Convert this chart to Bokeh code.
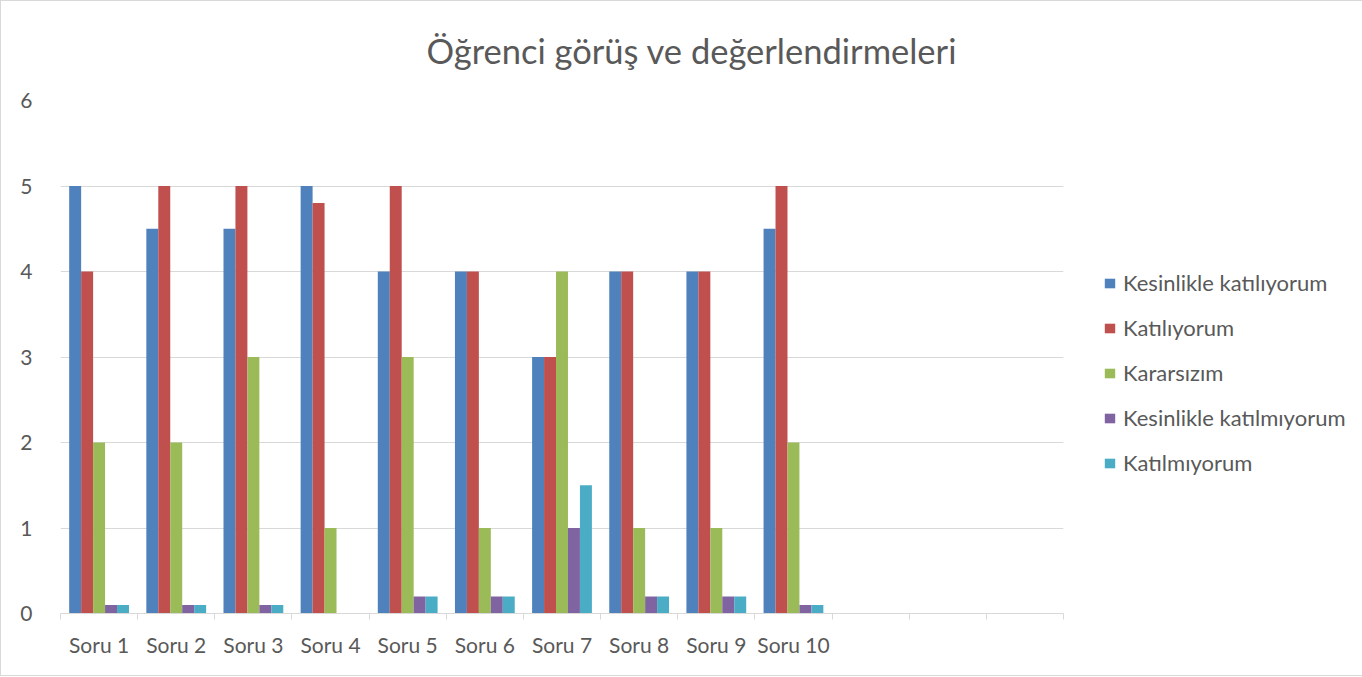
from bokeh.plotting import figure
from bokeh.models import Range1d, FixedTicker, Legend, LegendItem, ColumnDataSource, Title
from bokeh.transform import dodge
from bokeh.embed import file_html
from bokeh.resources import INLINE

categories = ["Soru 1", "Soru 2", "Soru 3", "Soru 4", "Soru 5", "Soru 6", "Soru 7",
              "Soru 8", "Soru 9", "Soru 10", "", "", ""]
series_names = ["Kesinlikle katılıyorum", "Katılıyorum", "Kararsızım",
                "Kesinlikle katılmıyorum", "Katılmıyorum"]
kesinlikle_katiliyorum = [5, 4.5, 4.5, 5, 4, 4, 3, 4, 4, 4.5]
katiliyorum = [4, 5, 5, 4.8, 5, 4, 3, 4, 4, 5]
kararsizim = [2, 2, 3, 1, 3, 1, 4, 1, 1, 2]
kesinlikle_katilmiyorum = [0.1, 0.1, 0.1, 0, 0.2, 0.2, 1, 0.2, 0.2, 0.1]
katilmiyorum = [0.1, 0.1, 0.1, 0, 0.2, 0.2, 1.5, 0.2, 0.2, 0.1]
y_ticks = [0, 1, 2, 3, 4, 5, 6]
colors = ["#4f81bd", "#c0504d", "#9bbb59", "#8064a2", "#4bacc6"]
title_text = "Öğrenci görüş ve değerlendirmeleri"

FONT = "Lato"
TXT = "#595959"
GRID = "#d9d9d9"

n_cat = len(categories)
n_data = len(kesinlikle_katiliyorum)
centers = [i + 0.5 for i in range(n_data)]
src = ColumnDataSource(dict(
    x=centers,
    s0=kesinlikle_katiliyorum, s1=katiliyorum, s2=kararsizim,
    s3=kesinlikle_katilmiyorum, s4=katilmiyorum,
))

p = figure(width=1357, height=674, output_backend="svg", toolbar_location=None,
           x_range=Range1d(0, n_cat), y_range=Range1d(0, 6),
           min_border_left=59, min_border_right=295, min_border_top=99, min_border_bottom=62)
p.frame_width = 1003
p.frame_height = 513
p.outline_line_color = None
p.background_fill_color = "white"
p.border_fill_color = "white"
p.styles = {"border": "1px solid #d9d9d9"}

bw = 0.155
offsets = [-2 * bw, -bw, 0, bw, 2 * bw]
renderers = []
for k in range(5):
    r = p.vbar(x=dodge("x", offsets[k], range=p.x_range), top="s%d" % k, width=bw,
               source=src, fill_color=colors[k], line_color=None)
    renderers.append(r)

# x axis
xa = p.xaxis[0]
xa.ticker = FixedTicker(ticks=[i + 0.5 for i in range(n_cat)],
                        minor_ticks=[float(i) for i in range(n_cat + 1)])
xa.major_label_overrides = {i + 0.5: categories[i] for i in range(n_cat)}
xa.major_tick_line_color = None
xa.major_tick_out = 0
xa.minor_tick_line_color = GRID
xa.minor_tick_out = 6
xa.minor_tick_in = 0
xa.axis_line_color = GRID
xa.major_label_text_font = FONT
xa.major_label_text_font_size = "21px"
xa.major_label_text_color = TXT
xa.major_label_standoff = 12

ya = p.yaxis[0]
ya.ticker = FixedTicker(ticks=y_ticks)
ya.axis_line_color = None
ya.major_tick_line_color = None
ya.minor_tick_line_color = None
ya.major_label_text_font = FONT
ya.major_label_text_font_size = "21px"
ya.major_label_text_color = TXT
ya.major_label_standoff = 22

p.xgrid.grid_line_color = None
p.ygrid.grid_line_color = GRID
p.ygrid.ticker = FixedTicker(ticks=y_ticks)

legend = Legend(items=[LegendItem(label=series_names[k], renderers=[renderers[k]]) for k in range(5)],
                location=(40, 137))
legend.border_line_color = None
legend.background_fill_alpha = 0
legend.margin = 0
legend.padding = 0
legend.glyph_width = 13
legend.glyph_height = 12
legend.label_height = 26
legend.spacing = 18
legend.label_standoff = 7
legend.label_text_font = FONT
legend.label_text_font_size = "22px"
legend.label_text_color = TXT
p.add_layout(legend, "right")

title = Title(text=title_text, align="left", offset=366, standoff=56, vertical_align="top",
              text_font=FONT, text_font_size="34.5px", text_color=TXT,
              text_font_style="normal")
p.add_layout(title, "above")

open("out.html", "w").write(file_html(p, INLINE))
